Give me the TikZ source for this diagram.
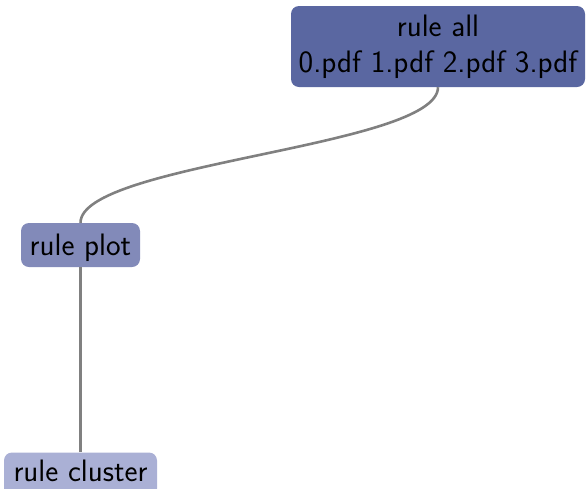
\documentclass[tikz,border=0pt]{standalone}
\usepackage{fontspec}
\definecolor{cAll}{HTML}{5A67A1}
\definecolor{cPlot}{HTML}{828AB9}
\definecolor{cClu}{HTML}{AAB0D5}
\definecolor{cEdge}{HTML}{808080}
\begin{document}
\begin{tikzpicture}[x=1pt,y=1pt,
  rulebox/.style={draw=none,rounded corners=8pt,inner sep=0pt,
    font=\sffamily\fontsize{31}{35.7}\selectfont,text=black,align=center},
  single/.style={text height=24pt,text depth=2.6pt},
  edge/.style={draw=cEdge,line width=2.6pt}]
\useasboundingbox (0,0) rectangle (586,-488);
\node[rulebox,fill=cAll,minimum width=294pt,minimum height=81pt] (all) at (438,-46.5)
  {rule all\\0.pdf 1.pdf 2.pdf 3.pdf};
\node[rulebox,single,fill=cPlot,minimum width=119pt,minimum height=44pt] (plot) at (80.5,-245) {rule plot};
\node[rulebox,text height=20pt,text depth=6pt,fill=cClu,minimum width=153pt,minimum height=44pt] (clu) at (80.5,-474.5) {rule cluster};
\draw[edge] (all.south) .. controls +(0,-60) and +(0,60) .. (plot.north);
\draw[edge] (plot.south) -- (clu.north);
\end{tikzpicture}
\end{document}
